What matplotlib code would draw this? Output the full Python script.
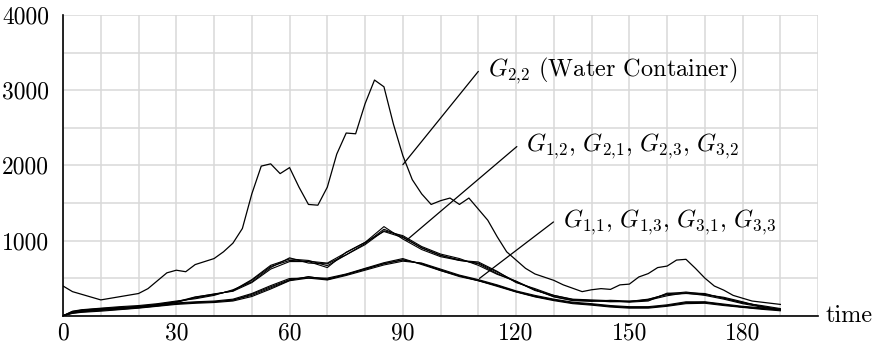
import matplotlib
matplotlib.use("Agg")
import matplotlib.pyplot as plt

plt.rcParams['font.family'] = 'serif'
plt.rcParams['font.serif'] = ['cmr10']
plt.rcParams['mathtext.fontset'] = 'cm'
plt.rcParams['axes.formatter.use_mathtext'] = True

# G_{2,2} (water container) - vertices
water_t = [0, 2.5, 10, 20, 22.5, 27.5, 30, 32.5, 35, 40, 42.5, 45, 47.5, 50, 52.5, 55, 57.5, 60,
           62.5, 65, 67.5, 70, 72.5, 75, 77.5, 80, 82.5, 85, 87.5, 90, 92.5, 95, 97.5, 100, 102.5,
           105, 107.5, 112.5, 115, 117.5, 122.5, 125, 130, 132.5, 137.5, 140, 142.5, 145, 147.5,
           150, 152.5, 155, 157.5, 160, 162.5, 165, 167.5, 170, 172.5, 175, 177.5, 182.5, 190]
water_v = [395, 320, 210, 295, 360, 570, 605, 585, 680, 760, 850, 965, 1160, 1620, 1990, 2020, 1890, 1970,
           1710, 1480, 1470, 1710, 2150, 2430, 2420, 2820, 3135, 3045, 2550, 2130, 1810, 1620, 1480, 1530, 1565,
           1480, 1565, 1270, 1050, 850, 630, 555, 470, 410, 320, 345, 360, 350, 410,
           420, 515, 560, 640, 660, 740, 750, 630, 500, 395, 340, 270, 195, 150]

t = [0, 2.5, 5, 10, 15, 20, 25, 30, 35, 40, 45, 50, 55, 60, 65, 70, 75, 80, 85, 90, 95,
     100, 105, 110, 115, 120, 125, 130, 135, 140, 145, 150, 155, 160, 165, 170, 175, 180, 185, 190]

# G_{1,2}, G_{2,1}, G_{2,3}, G_{3,2}
g12 = [0, 55, 75, 95, 110, 125, 150, 185, 235, 280, 335, 480, 670, 755, 735, 665, 810, 960, 1150, 1050, 900,
       800, 745, 690, 560, 450, 345, 255, 205, 200, 190, 185, 215, 290, 315, 285, 235, 175, 125, 80]
g21 = [0, 40, 60, 85, 100, 115, 140, 175, 245, 290, 325, 440, 620, 720, 720, 640, 845, 975, 1185, 1020, 880,
       785, 735, 715, 590, 440, 360, 270, 220, 210, 200, 180, 195, 300, 300, 270, 220, 160, 115, 75]
g23 = [0, 60, 80, 100, 120, 135, 160, 195, 225, 270, 345, 450, 640, 770, 700, 690, 810, 945, 1130, 1065, 920,
       820, 760, 670, 550, 460, 345, 250, 200, 190, 205, 195, 205, 265, 305, 295, 230, 170, 135, 95]
g32 = [0, 45, 70, 90, 105, 120, 150, 185, 250, 285, 330, 470, 655, 735, 725, 700, 840, 975, 1120, 1040, 905,
       805, 735, 700, 580, 455, 335, 270, 215, 200, 185, 190, 220, 280, 295, 280, 245, 185, 120, 85]

# G_{1,1}, G_{1,3}, G_{3,1}, G_{3,3}
g11 = [0, 40, 55, 75, 90, 110, 135, 160, 175, 185, 205, 285, 385, 480, 515, 490, 545, 625, 690, 745, 690,
       610, 530, 465, 400, 320, 255, 210, 170, 150, 125, 110, 110, 135, 170, 180, 145, 115, 95, 75]
g13 = [0, 30, 45, 60, 80, 100, 125, 150, 165, 175, 195, 255, 355, 465, 500, 500, 555, 630, 705, 760, 680,
       600, 520, 465, 390, 315, 250, 200, 160, 140, 115, 100, 100, 125, 160, 165, 135, 110, 85, 65]
g31 = [0, 45, 60, 80, 100, 120, 145, 170, 185, 195, 220, 295, 400, 495, 500, 475, 535, 605, 675, 725, 700,
       620, 540, 480, 410, 330, 270, 220, 180, 160, 135, 120, 120, 145, 185, 185, 155, 125, 105, 85]
g33 = [0, 35, 50, 70, 85, 105, 130, 160, 175, 185, 210, 270, 370, 470, 520, 480, 550, 615, 695, 740, 695,
       600, 530, 470, 400, 320, 260, 210, 170, 150, 125, 110, 110, 135, 175, 175, 145, 115, 95, 75]

fig = plt.figure(figsize=(8.78, 3.46), dpi=100)
ax = fig.add_axes([0.0718, 0.0876, 0.86, 0.869])

ax.plot(water_t, water_v, color='black', lw=0.9)
for s in [g12, g21, g23, g32, g11, g13, g31, g33]:
    ax.plot(t, s, color='black', lw=0.8)

ax.set_xlim(0, 200)
ax.set_ylim(0, 4000)
ax.set_xticks(range(0, 201, 10))
ax.set_xticklabels([str(v) if v % 30 == 0 and v <= 180 else '' for v in range(0, 201, 10)])
ax.set_yticks(range(0, 4001, 500))
ax.set_yticklabels([str(v) if v % 1000 == 0 and v > 0 else '' for v in range(0, 4001, 500)])
ax.tick_params(length=0, labelsize=17)
ax.tick_params(axis='x', pad=5)
ax.tick_params(axis='y', pad=10)
ax.grid(True, color='#d9d9d9', lw=1.1)
ax.set_axisbelow(True)
for side in ['top', 'right']:
    ax.spines[side].set_visible(False)
for side in ['left', 'bottom']:
    ax.spines[side].set_linewidth(1.2)

ax.text(202, 0, 'time', fontsize=17.5, ha='left', va='center', clip_on=False)

labels = [
    (r'$G_{2{,}2}$ (Water Container)', (90, 2008), (110, 3250), (112.5, 3260)),
    (r'$G_{1{,}2},\,G_{2{,}1},\,G_{2{,}3},\,G_{3{,}2}$', (91, 1004), (120.2, 2250), (122.5, 2250)),
    (r'$G_{1{,}1},\,G_{1{,}3},\,G_{3{,}1},\,G_{3{,}3}$', (110.3, 496), (129.9, 1247), (132.5, 1245)),
]
for txt, p0, p1, pt in labels:
    ax.annotate('', xy=p0, xytext=p1,
                arrowprops=dict(arrowstyle='-', lw=0.9, color='black', shrinkA=0, shrinkB=0))
    ax.text(pt[0], pt[1], txt, fontsize=17.5, ha='left', va='center')

fig.savefig('out.png', dpi=100)
